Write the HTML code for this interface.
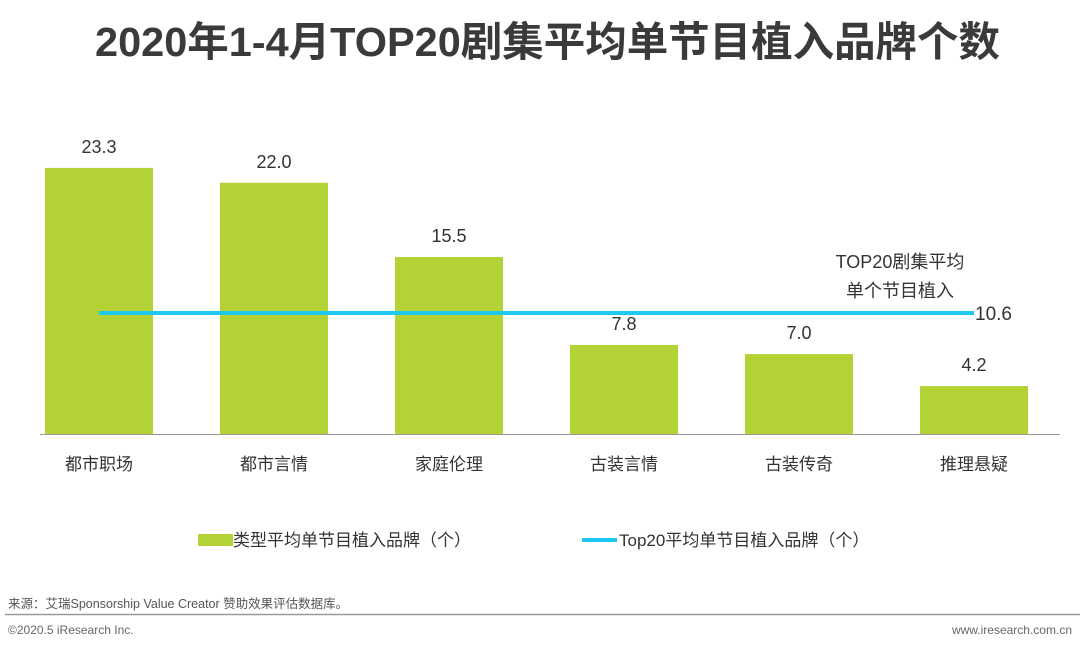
<!DOCTYPE html>
<html><head><meta charset="utf-8">
<style>
body{margin:0;background:#fff;}
svg text{font-family:"Liberation Sans","Noto Sans CJK SC",sans-serif;}
</style></head>
<body>
<svg id="chart" width="1080" height="650" xmlns="http://www.w3.org/2000/svg">
<text x="95" y="56" textLength="905" lengthAdjust="spacingAndGlyphs" font-size="41" font-weight="bold" fill="#3a3a3a">2020年1-4月TOP20剧集平均单节目植入品牌个数</text>
<g id="bars"></g>
<line x1="40" y1="434.5" x2="1060" y2="434.5" stroke="#999" stroke-width="1"/>
<text x="900" y="268" text-anchor="middle" font-size="18" fill="#333">TOP20剧集平均</text>
<text x="900" y="297" text-anchor="middle" font-size="18" fill="#333">单个节目植入</text>
<rect x="198" y="534" width="35" height="12" fill="#b2d235"/>
<text x="233" y="546" font-size="17" fill="#333">类型平均单节目植入品牌（个）</text>
<line x1="582" y1="540" x2="617" y2="540" stroke="#1ec8f0" stroke-width="4"/>
<text x="619" y="546" font-size="17" fill="#333">Top20平均单节目植入品牌（个）</text>
<text x="8" y="608" font-size="12.5" fill="#555">来源：艾瑞Sponsorship Value Creator 赞助效果评估数据库。</text>
<line x1="5" y1="614.5" x2="1080" y2="614.5" stroke="#999" stroke-width="1.5"/>
<text x="8" y="634" font-size="12" fill="#666">©2020.5 iResearch Inc.</text>
<text x="1072" y="634" text-anchor="end" font-size="12" fill="#666">www.iresearch.com.cn</text>
</svg>
<script>
const categories=["都市职场","都市言情","家庭伦理","古装言情","古装传奇","推理悬疑"];
const values=[23.3,22.0,15.5,7.8,7.0,4.2];
const avgValue=[10.6];
const NS="http://www.w3.org/2000/svg";
const baseY=434, scale=11.42, x0=99, step=175, bw=108;
function xPos(i){return x0+i*step;}
function yPos(v){return baseY-v*scale;}
const svg=document.getElementById('chart');
const g=document.getElementById('bars');
categories.forEach((c,i)=>{
  const r=document.createElementNS(NS,'rect');
  
  
  r.setAttribute('x',xPos(i)-bw/2);r.setAttribute('y',yPos(values[i]));
  r.setAttribute('width',bw);r.setAttribute('height',baseY-yPos(values[i]));
  r.setAttribute('fill','#b2d235');g.appendChild(r);
  const t=document.createElementNS(NS,'text');
  
  
  t.setAttribute('x',xPos(i));t.setAttribute('y',yPos(values[i])-15);
  t.setAttribute('text-anchor','middle');t.setAttribute('font-size','18');t.setAttribute('fill','#333');
  t.textContent=values[i].toFixed(1);g.appendChild(t);
  const l=document.createElementNS(NS,'text');
  
  
  l.setAttribute('x',xPos(i));l.setAttribute('y',470);
  l.setAttribute('text-anchor','middle');l.setAttribute('font-size','17');l.setAttribute('fill','#333');
  l.textContent=c;g.appendChild(l);
});
const ln=document.createElementNS(NS,'line');


ln.setAttribute('x1',xPos(0));ln.setAttribute('x2',xPos(categories.length-1));
ln.setAttribute('y1',yPos(avgValue[0]));ln.setAttribute('y2',yPos(avgValue[0]));
ln.setAttribute('stroke','#1ec8f0');ln.setAttribute('stroke-width','4');svg.appendChild(ln);
const lt=document.createElementNS(NS,'text');


lt.setAttribute('x',xPos(categories.length-1)+1);lt.setAttribute('y',yPos(avgValue[0])+7);
lt.setAttribute('font-size','19');lt.setAttribute('fill','#333');
lt.textContent=avgValue[0].toFixed(1);svg.appendChild(lt);
</script>
</body></html>
